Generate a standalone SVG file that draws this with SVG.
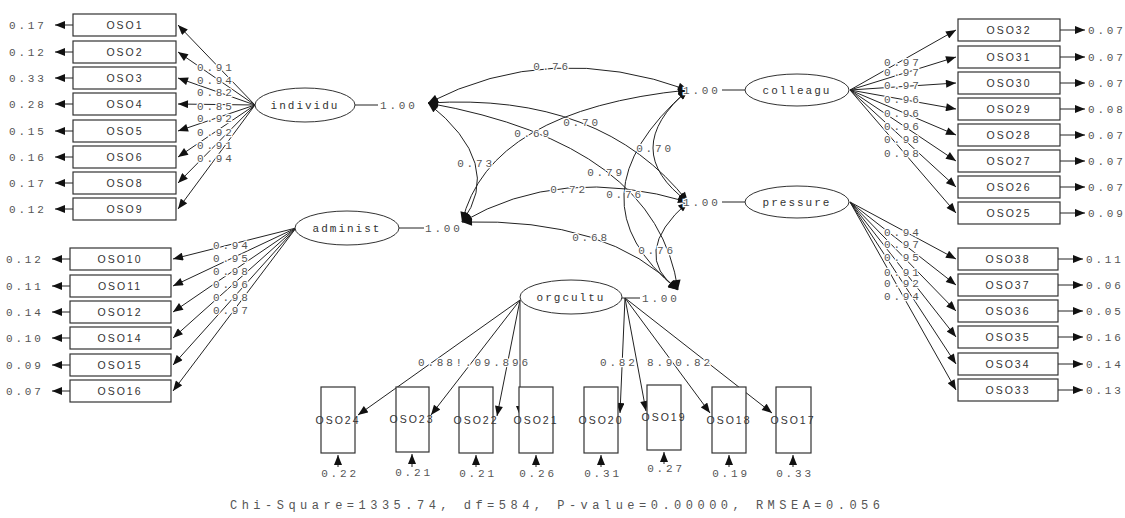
<svg xmlns="http://www.w3.org/2000/svg" width="1125" height="518" viewBox="0 0 1125 518">
<style>
.bg{fill:#fff}
.box{fill:#fff;stroke:#333;stroke-width:1.2}
.lat{fill:#fff;stroke:#333;stroke-width:1}
.bt{font-family:"Liberation Sans",Arial,sans-serif;font-size:10.5px;letter-spacing:2px;fill:#333;text-anchor:middle}
.lt{font-family:"Liberation Mono","Courier New",monospace;font-size:11px;letter-spacing:2px;fill:#333;text-anchor:middle}
.n{font-family:"Liberation Mono","Courier New",monospace;font-size:11px;letter-spacing:2.8px;fill:#555;stroke:#fff;stroke-width:2.5px;paint-order:stroke}
.nm{text-anchor:middle}
.ln{fill:none;stroke:#222;stroke-width:1}
.arr{fill:none;stroke:#222;stroke-width:1;marker-end:url(#ah)}
.cov{fill:none;stroke:#222;stroke-width:1;marker-start:url(#ahs);marker-end:url(#ah)}
.chi{font-family:"Liberation Mono","Courier New",monospace;font-size:12px;fill:#555}
</style>
<defs>
<marker id="ah" viewBox="0 0 10 8" refX="10" refY="4" markerWidth="11" markerHeight="8" markerUnits="userSpaceOnUse" orient="auto"><path d="M0,0 L10,4 L0,8 z" fill="#111"/></marker>
<marker id="ahs" viewBox="0 0 10 8" refX="10" refY="4" markerWidth="11" markerHeight="8" markerUnits="userSpaceOnUse" orient="auto-start-reverse"><path d="M0,0 L10,4 L0,8 z" fill="#111"/></marker>
</defs>
<rect class="bg" x="0" y="0" width="1125" height="518"/>

<g id="connectors">
<path class="arr" d="M255,105 L178,25"/>
<path class="arr" d="M255,105 L178,52"/>
<path class="arr" d="M255,105 L178,78"/>
<path class="arr" d="M255,105 L178,104"/>
<path class="arr" d="M255,105 L178,131"/>
<path class="arr" d="M255,105 L178,157"/>
<path class="arr" d="M255,105 L178,183"/>
<path class="arr" d="M255,105 L178,209"/>
<path class="arr" d="M296,228 L173,259"/>
<path class="arr" d="M296,228 L173,286"/>
<path class="arr" d="M296,228 L173,312"/>
<path class="arr" d="M296,228 L173,338"/>
<path class="arr" d="M296,228 L173,365"/>
<path class="arr" d="M296,228 L173,391"/>
<path class="arr" d="M850,90 L956,30"/>
<path class="arr" d="M850,90 L956,57"/>
<path class="arr" d="M850,90 L956,83"/>
<path class="arr" d="M850,90 L956,109"/>
<path class="arr" d="M850,90 L956,135"/>
<path class="arr" d="M850,90 L956,161"/>
<path class="arr" d="M850,90 L956,187"/>
<path class="arr" d="M850,90 L956,213"/>
<path class="arr" d="M850,202 L956,259"/>
<path class="arr" d="M850,202 L956,285"/>
<path class="arr" d="M850,202 L956,311"/>
<path class="arr" d="M850,202 L956,337"/>
<path class="arr" d="M850,202 L956,364"/>
<path class="arr" d="M850,202 L956,390"/>
<path class="arr" d="M520,300 L358,415"/>
<path class="arr" d="M520,300 L431,415"/>
<path class="arr" d="M520,300 L497,416"/>
<path class="arr" d="M520,300 L520,416"/>
<path class="arr" d="M625,298 L620,413"/>
<path class="arr" d="M625,298 L646,411"/>
<path class="arr" d="M625,298 L710,413"/>
<path class="arr" d="M625,298 L772,413"/>
<path class="arr" d="M73,25 L55,25"/>
<path class="arr" d="M73,52 L55,52"/>
<path class="arr" d="M73,78 L55,78"/>
<path class="arr" d="M73,104 L55,104"/>
<path class="arr" d="M73,131 L55,131"/>
<path class="arr" d="M73,157 L55,157"/>
<path class="arr" d="M73,183 L55,183"/>
<path class="arr" d="M73,209 L55,209"/>
<path class="arr" d="M70,259 L52,259"/>
<path class="arr" d="M70,286 L52,286"/>
<path class="arr" d="M70,312 L52,312"/>
<path class="arr" d="M70,338 L52,338"/>
<path class="arr" d="M70,365 L52,365"/>
<path class="arr" d="M70,391 L52,391"/>
<path class="arr" d="M1060,30 L1085,30"/>
<path class="arr" d="M1060,57 L1085,57"/>
<path class="arr" d="M1060,83 L1085,83"/>
<path class="arr" d="M1060,109 L1085,109"/>
<path class="arr" d="M1060,135 L1085,135"/>
<path class="arr" d="M1060,161 L1085,161"/>
<path class="arr" d="M1060,187 L1085,187"/>
<path class="arr" d="M1060,213 L1085,213"/>
<path class="arr" d="M1058,259 L1083,259"/>
<path class="arr" d="M1058,285 L1083,285"/>
<path class="arr" d="M1058,311 L1083,311"/>
<path class="arr" d="M1058,337 L1083,337"/>
<path class="arr" d="M1058,364 L1083,364"/>
<path class="arr" d="M1058,390 L1083,390"/>
<path class="arr" d="M338,467 L338,455"/>
<path class="arr" d="M412,467 L412,454"/>
<path class="arr" d="M476,467 L476,455"/>
<path class="arr" d="M536,467 L536,455"/>
<path class="arr" d="M601,467 L601,455"/>
<path class="arr" d="M664,464 L664,452"/>
<path class="arr" d="M729,467 L729,455"/>
<path class="arr" d="M793,467 L793,455"/>
<path class="ln" d="M355,105 L378,105"/>
<path class="ln" d="M399,228 L424,228"/>
<path class="ln" d="M722,90 L745,90"/>
<path class="ln" d="M722,202 L745,202"/>
<path class="ln" d="M622,298 L640,298"/>
<path class="cov" d="M428,103 Q550,40 688,90"/>
<path class="cov" d="M428,103 Q602,92 688,202"/>
<path class="cov" d="M462,222 Q489,110 688,90"/>
<path class="cov" d="M428,103 Q505,164 462,222"/>
<path class="cov" d="M428,103 Q657,144 678,290"/>
<path class="cov" d="M462,222 Q561,164 688,202"/>
<path class="cov" d="M462,222 Q610,218 678,290"/>
<path class="cov" d="M688,90 Q618,150 688,202"/>
<path class="cov" d="M688,90 Q565,198 678,290"/>
<path class="cov" d="M688,202 Q629,254 678,290"/>
<text class="n nm" x="552" y="70">0.76</text>
<text class="n nm" x="582" y="126">0.70</text>
<text class="n nm" x="533" y="137">0.69</text>
<text class="n nm" x="476" y="167">0.73</text>
<text class="n nm" x="606" y="176">0.79</text>
<text class="n nm" x="569" y="193">0.72</text>
<text class="n nm" x="591" y="241">0.68</text>
<text class="n nm" x="655" y="152">0.70</text>
<text class="n nm" x="625" y="198">0.76</text>
<text class="n nm" x="657" y="254">0.76</text>
<text class="n" x="380" y="109">1.00</text>
<text class="n" x="425" y="232">1.00</text>
<text class="n" x="683" y="94">1.00</text>
<text class="n" x="683" y="206">1.00</text>
<text class="n" x="642" y="302">1.00</text>
<text class="n" x="197" y="71">0.91</text>
<text class="n" x="197" y="84">0.94</text>
<text class="n" x="197" y="96">0.82</text>
<text class="n" x="197" y="110">0.85</text>
<text class="n" x="197" y="122">0.92</text>
<text class="n" x="197" y="136">0.92</text>
<text class="n" x="197" y="149">0.91</text>
<text class="n" x="197" y="162">0.94</text>
<text class="n" x="213" y="249">0.94</text>
<text class="n" x="213" y="262">0.95</text>
<text class="n" x="213" y="275">0.98</text>
<text class="n" x="213" y="288">0.96</text>
<text class="n" x="213" y="301">0.98</text>
<text class="n" x="213" y="314">0.97</text>
<text class="n" x="884" y="66">0.97</text>
<text class="n" x="884" y="76">0.97</text>
<text class="n" x="884" y="89">0.97</text>
<text class="n" x="884" y="103">0.96</text>
<text class="n" x="884" y="117">0.96</text>
<text class="n" x="884" y="130">0.96</text>
<text class="n" x="884" y="143">0.98</text>
<text class="n" x="884" y="157">0.98</text>
<text class="n" x="884" y="236">0.94</text>
<text class="n" x="884" y="248">0.97</text>
<text class="n" x="884" y="261">0.95</text>
<text class="n" x="884" y="276">0.91</text>
<text class="n" x="884" y="287">0.92</text>
<text class="n" x="884" y="300">0.94</text>
<text class="n" x="418" y="366">0.88!.09.896</text>
<text class="n" x="600" y="366">0.82 8.90.82</text>
<text class="n" x="9" y="29">0.17</text>
<text class="n" x="9" y="56">0.12</text>
<text class="n" x="9" y="82">0.33</text>
<text class="n" x="9" y="108">0.28</text>
<text class="n" x="9" y="135">0.15</text>
<text class="n" x="9" y="161">0.16</text>
<text class="n" x="9" y="187">0.17</text>
<text class="n" x="9" y="213">0.12</text>
<text class="n" x="6" y="263">0.12</text>
<text class="n" x="6" y="290">0.11</text>
<text class="n" x="6" y="316">0.14</text>
<text class="n" x="6" y="342">0.10</text>
<text class="n" x="6" y="369">0.09</text>
<text class="n" x="6" y="395">0.07</text>
<text class="n" x="1088" y="34">0.07</text>
<text class="n" x="1088" y="61">0.07</text>
<text class="n" x="1088" y="87">0.07</text>
<text class="n" x="1088" y="113">0.08</text>
<text class="n" x="1088" y="139">0.07</text>
<text class="n" x="1088" y="165">0.07</text>
<text class="n" x="1088" y="191">0.07</text>
<text class="n" x="1088" y="217">0.09</text>
<text class="n" x="1086" y="263">0.11</text>
<text class="n" x="1086" y="289">0.06</text>
<text class="n" x="1086" y="315">0.05</text>
<text class="n" x="1086" y="341">0.16</text>
<text class="n" x="1086" y="368">0.14</text>
<text class="n" x="1086" y="394">0.13</text>
<text class="n nm" x="340" y="477">0.22</text>
<text class="n nm" x="414" y="476">0.21</text>
<text class="n nm" x="478" y="477">0.21</text>
<text class="n nm" x="538" y="477">0.26</text>
<text class="n nm" x="603" y="477">0.31</text>
<text class="n nm" x="666" y="472">0.27</text>
<text class="n nm" x="731" y="477">0.19</text>
<text class="n nm" x="795" y="477">0.33</text>
</g>

<g id="individu"><ellipse class="lat" cx="305" cy="105" rx="50" ry="17"/><text class="lt" x="305" y="109">individu</text></g>
<g id="administ"><ellipse class="lat" cx="347" cy="228" rx="52" ry="17"/><text class="lt" x="347" y="232">administ</text></g>
<g id="colleagu"><ellipse class="lat" cx="797" cy="90" rx="52" ry="16"/><text class="lt" x="797" y="94">colleagu</text></g>
<g id="pressure"><ellipse class="lat" cx="797" cy="202" rx="52" ry="16"/><text class="lt" x="797" y="206">pressure</text></g>
<g id="orgcultu"><ellipse class="lat" cx="571" cy="297" rx="51" ry="17"/><text class="lt" x="571" y="301">orgcultu</text></g>

<g id="OSO1"><rect class="box" x="73" y="14" width="103" height="22"/><text class="bt" x="125" y="29">OSO1</text></g>
<g id="OSO2"><rect class="box" x="73" y="41" width="103" height="22"/><text class="bt" x="125" y="56">OSO2</text></g>
<g id="OSO3"><rect class="box" x="73" y="67" width="103" height="22"/><text class="bt" x="125" y="82">OSO3</text></g>
<g id="OSO4"><rect class="box" x="73" y="93" width="103" height="22"/><text class="bt" x="125" y="108">OSO4</text></g>
<g id="OSO5"><rect class="box" x="73" y="120" width="103" height="22"/><text class="bt" x="125" y="135">OSO5</text></g>
<g id="OSO6"><rect class="box" x="73" y="146" width="103" height="22"/><text class="bt" x="125" y="161">OSO6</text></g>
<g id="OSO8"><rect class="box" x="73" y="172" width="103" height="22"/><text class="bt" x="125" y="187">OSO8</text></g>
<g id="OSO9"><rect class="box" x="73" y="198" width="103" height="22"/><text class="bt" x="125" y="213">OSO9</text></g>

<g id="OSO10"><rect class="box" x="70" y="248" width="101" height="22"/><text class="bt" x="120" y="263">OSO10</text></g>
<g id="OSO11"><rect class="box" x="70" y="275" width="101" height="22"/><text class="bt" x="120" y="290">OSO11</text></g>
<g id="OSO12"><rect class="box" x="70" y="301" width="101" height="22"/><text class="bt" x="120" y="316">OSO12</text></g>
<g id="OSO14"><rect class="box" x="70" y="327" width="101" height="22"/><text class="bt" x="120" y="342">OSO14</text></g>
<g id="OSO15"><rect class="box" x="70" y="354" width="101" height="22"/><text class="bt" x="120" y="369">OSO15</text></g>
<g id="OSO16"><rect class="box" x="70" y="380" width="101" height="22"/><text class="bt" x="120" y="395">OSO16</text></g>

<g id="OSO32"><rect class="box" x="958" y="19" width="102" height="22"/><text class="bt" x="1009" y="34">OSO32</text></g>
<g id="OSO31"><rect class="box" x="958" y="46" width="102" height="22"/><text class="bt" x="1009" y="61">OSO31</text></g>
<g id="OSO30"><rect class="box" x="958" y="72" width="102" height="22"/><text class="bt" x="1009" y="87">OSO30</text></g>
<g id="OSO29"><rect class="box" x="958" y="98" width="102" height="22"/><text class="bt" x="1009" y="113">OSO29</text></g>
<g id="OSO28"><rect class="box" x="958" y="124" width="102" height="22"/><text class="bt" x="1009" y="139">OSO28</text></g>
<g id="OSO27"><rect class="box" x="958" y="150" width="102" height="22"/><text class="bt" x="1009" y="165">OSO27</text></g>
<g id="OSO26"><rect class="box" x="958" y="176" width="102" height="22"/><text class="bt" x="1009" y="191">OSO26</text></g>
<g id="OSO25"><rect class="box" x="958" y="202" width="102" height="22"/><text class="bt" x="1009" y="217">OSO25</text></g>

<g id="OSO38"><rect class="box" x="958" y="248" width="100" height="22"/><text class="bt" x="1008" y="263">OSO38</text></g>
<g id="OSO37"><rect class="box" x="958" y="274" width="100" height="22"/><text class="bt" x="1008" y="289">OSO37</text></g>
<g id="OSO36"><rect class="box" x="958" y="300" width="100" height="22"/><text class="bt" x="1008" y="315">OSO36</text></g>
<g id="OSO35"><rect class="box" x="958" y="326" width="100" height="22"/><text class="bt" x="1008" y="341">OSO35</text></g>
<g id="OSO34"><rect class="box" x="958" y="353" width="100" height="22"/><text class="bt" x="1008" y="368">OSO34</text></g>
<g id="OSO33"><rect class="box" x="958" y="379" width="100" height="22"/><text class="bt" x="1008" y="394">OSO33</text></g>

<g id="OSO24"><rect class="box" x="321" y="387" width="34" height="66"/><text class="bt" x="338" y="424">OSO24</text></g>
<g id="OSO23"><rect class="box" x="396" y="387" width="33" height="65"/><text class="bt" x="412" y="423">OSO23</text></g>
<g id="OSO22"><rect class="box" x="459" y="387" width="34" height="66"/><text class="bt" x="476" y="424">OSO22</text></g>
<g id="OSO21"><rect class="box" x="519" y="387" width="34" height="66"/><text class="bt" x="536" y="424">OSO21</text></g>
<g id="OSO20"><rect class="box" x="584" y="387" width="34" height="66"/><text class="bt" x="601" y="424">OSO20</text></g>
<g id="OSO19"><rect class="box" x="647" y="385" width="34" height="65"/><text class="bt" x="664" y="421">OSO19</text></g>
<g id="OSO18"><rect class="box" x="712" y="387" width="34" height="66"/><text class="bt" x="729" y="424">OSO18</text></g>
<g id="OSO17"><rect class="box" x="776" y="387" width="35" height="66"/><text class="bt" x="793" y="424">OSO17</text></g>

<text class="chi" x="230" y="509" textLength="650" lengthAdjust="spacing">Chi-Square=1335.74, df=584, P-value=0.00000, RMSEA=0.056</text>
</svg>
